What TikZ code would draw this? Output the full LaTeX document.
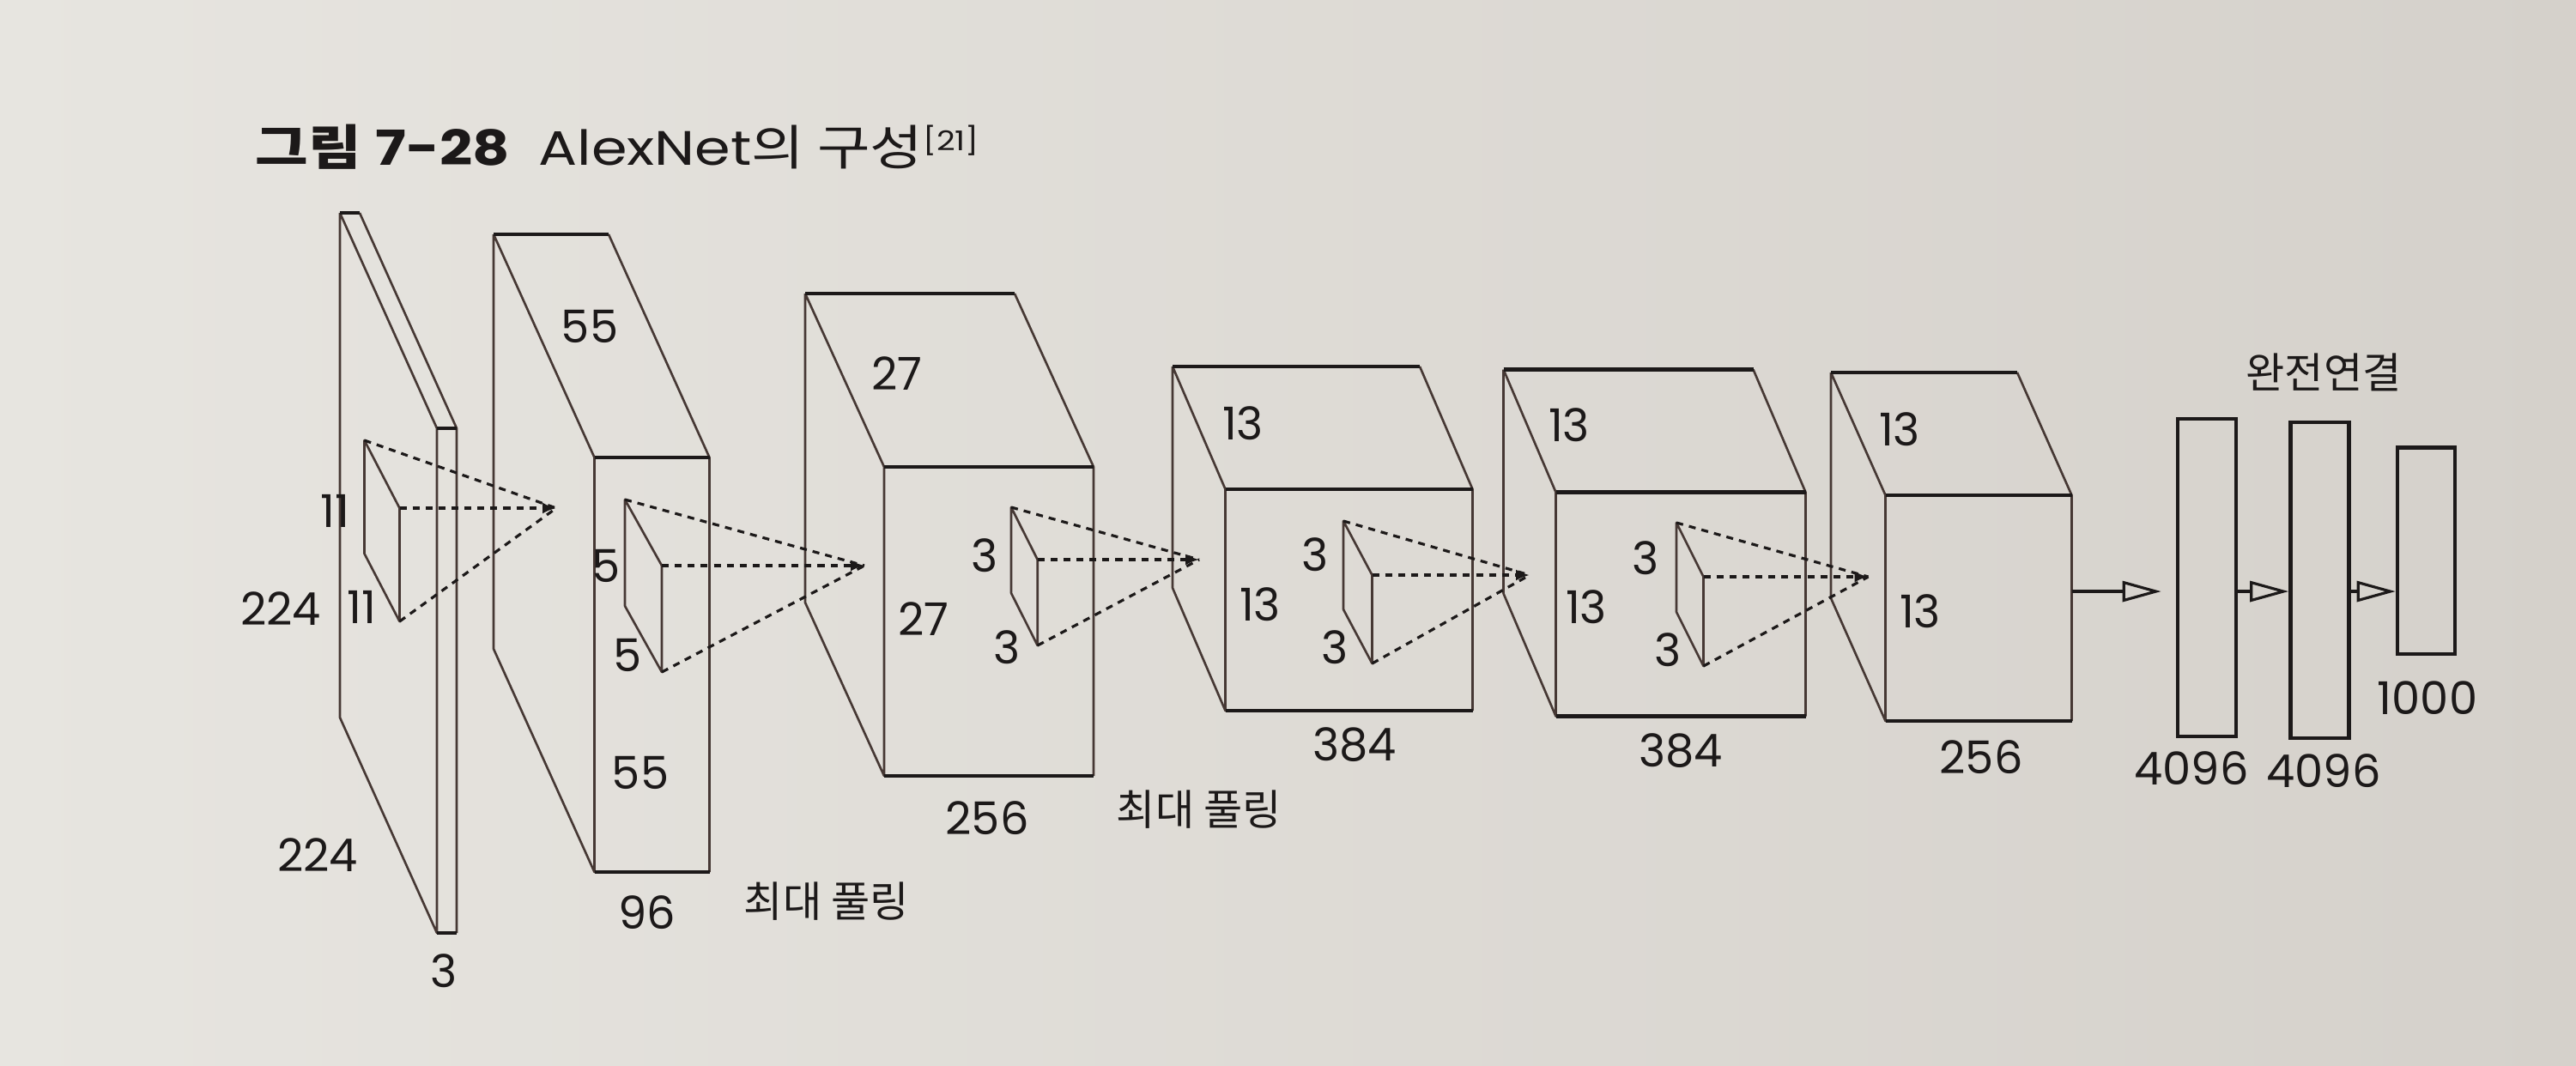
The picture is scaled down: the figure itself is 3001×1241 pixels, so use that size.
\documentclass[tikz,border=0pt]{standalone}
\usepackage{graphicx}
\usepackage{fontspec}
\setmainfont{Poppins}
\newfontfamily\krfont{Noto Sans CJK KR}
\usetikzlibrary{arrows.meta,positioning,calc}
\definecolor{PaperLight}{RGB}{231,229,224}
\definecolor{PaperDark}{RGB}{213,209,203}
\definecolor{InkLine}{RGB}{70,56,52}
\definecolor{InkDark}{RGB}{28,25,25}

% feature map: #1 name, (#2,#3) back top left, #4 width, #5 height, (#6,#7) depth
\newcommand{\featbox}[7]{%
  \coordinate (#1-btl) at (#2,#3);
  \coordinate (#1-btr) at ($(#1-btl)+(#4,0)$);
  \coordinate (#1-bbl) at ($(#1-btl)+(0,#5)$);
  \coordinate (#1-ftl) at ($(#1-btl)+(#6,#7)$);
  \coordinate (#1-ftr) at ($(#1-ftl)+(#4,0)$);
  \coordinate (#1-fbl) at ($(#1-ftl)+(0,#5)$);
  \coordinate (#1-fbr) at ($(#1-ftr)+(0,#5)$);
  \draw[edge] (#1-btl) -- (#1-bbl) -- (#1-fbl) -- (#1-ftl) -- (#1-btl)
    (#1-btr) -- (#1-ftr) -- (#1-fbr);
  \draw[hedge] (#1-btl) -- (#1-btr) (#1-ftl) -- (#1-ftr) (#1-fbl) -- (#1-fbr);
}
% filter window: #1 name, (#2,#3) top corner, (#4,#5) slant, #6 height
\newcommand{\filterpatch}[6]{%
  \coordinate (#1-t) at (#2,#3);
  \coordinate (#1-rt) at ($(#1-t)+(#4,#5)$);
  \coordinate (#1-rb) at ($(#1-rt)+(0,#6)$);
  \coordinate (#1-lb) at ($(#1-t)+(0,#6)$);
  \draw[edge] (#1-t) -- (#1-rt) -- (#1-rb) -- (#1-lb) -- cycle;
}

\begin{document}
\begin{tikzpicture}[x=0.01cm, y=-0.01cm,
  edge/.style={line width=0.75pt, InkLine, line join=round},
  hedge/.style={line width=1.4pt, InkDark},
  rays/.style={dash pattern=on 2.3pt off 2pt, line width=0.9pt, InkDark},
  fcbox/.style={draw=InkDark, line width=1.3pt, inner sep=0pt},
  fcarrow/.style={-{Triangle[open,length=4.5mm,width=2.4mm]}, line width=0.9pt, InkDark},
  num/.style={font=\fontsize{15}{18}\selectfont, text=InkDark, inner sep=0pt},
  kor/.style={font=\krfont\fontsize{14}{17}\selectfont, text=InkDark, inner sep=0pt}
]
  \useasboundingbox (0,0) rectangle (3001,1241);
  \shade[left color=PaperLight, right color=PaperDark] (0,0) rectangle (3001,1241);

  \node[anchor=base west, text=InkDark, inner sep=0pt] (title) at (297,192)
    {\scalebox{1.19}[1]{\fontsize{16}{19}\selectfont{\krfont\bfseries 그림}\hspace{4pt}\textbf{7-28}\hspace{8pt}AlexNet{\krfont 의 구성}\raisebox{0.17cm}{\fontsize{9}{10}\selectfont[21]}}};

  % layers
  \featbox{l1}{396}{248}{23}{588}{113}{251}
  \featbox{l2}{575}{273}{134}{483}{117.5}{260}
  \featbox{l3}{938}{342}{244}{360}{92}{202}
  \featbox{l4}{1366}{427}{288}{258}{61.5}{143}
  \featbox{l5}{1751.5}{430.5}{291}{261}{61}{143}
  \featbox{l6}{2133}{434}{217}{263}{63.5}{143}

  % filters
  \filterpatch{f1}{424.5}{513}{41}{79}{132}
  \filterpatch{f2}{728}{582}{43}{77}{124}
  \filterpatch{f3}{1178}{591}{30.7}{61}{100}
  \filterpatch{f4}{1565}{607}{33.5}{63}{103}
  \filterpatch{f5}{1953}{609}{31.5}{63}{104}

  \coordinate (c1) at (648,592);
  \coordinate (c2) at (1007,659);
  \coordinate (c3) at (1397,652);
  \coordinate (c4) at (1782,670);
  \coordinate (c5) at (2176.5,672);
  \foreach \f/\c in {f1/c1,f2/c2,f3/c3,f4/c4,f5/c5}{
    \draw[rays] (\f-t) -- (\c) (\f-rb) -- (\c);
    \draw[rays,-{Latex[length=1.6mm,width=1.3mm]}] (\f-rt) -- (\c);
  }

  % fully connected
  \node[fcbox, minimum width=0.68cm, minimum height=3.70cm] (fc1) at (2571,673) {};
  \node[fcbox, minimum width=0.68cm, minimum height=3.68cm] (fc2) at (2702.5,676) {};
  \node[fcbox, minimum width=0.67cm, minimum height=2.40cm] (fc3) at (2826.5,641.7) {};
  \coordinate (a0) at ($(l6-ftr)!0.426!(l6-fbr)$);
  \draw[fcarrow, shorten >=0.17cm] (a0) -- (a0 -| fc1.west);
  \draw[fcarrow] (fc1.east |- a0) -- (fc2.west |- a0);
  \draw[fcarrow] (fc2.east |- a0) -- (fc3.west |- a0);

  % sizes
  \node[num] (in-k1) at (390,595) {11};
  \node[num] (in-h) at (327,709) {224};
  \node[num] (in-k2) at (421,707) {11};
  \node[num] (in-w) at (370,996) {224};
  \node[num] (in-c) at (517,1131) {3};
  \node[num] (c1-w) at (687,380) {55};
  \node[num] (c1-k1) at (706,659) {5};
  \node[num] (c1-k2) at (731,763) {5};
  \node[num] (c1-h) at (746,900) {55};
  \node[num] (c1-c) at (754,1063) {96};
  \node[kor] (pool1) at (963,1050) {최대 풀링};
  \node[num] (c2-w) at (1045,435) {27};
  \node[num] (c2-h) at (1076,721) {27};
  \node[num] (c2-k1) at (1147,647) {3};
  \node[num] (c2-k2) at (1173,754) {3};
  \node[num] (c2-c) at (1150,953) {256};
  \node[kor] (pool2) at (1397,943) {최대 풀링};
  \node[num] (c3-w) at (1448,493) {13};
  \node[num] (c3-h) at (1468,704) {13};
  \node[num] (c3-k1) at (1532,646) {3};
  \node[num] (c3-k2) at (1555,754) {3};
  \node[num] (c3-c) at (1578,868) {384};
  \node[num] (c4-w) at (1828,495) {13};
  \node[num] (c4-h) at (1848,707) {13};
  \node[num] (c4-k1) at (1917,650) {3};
  \node[num] (c4-k2) at (1943,757) {3};
  \node[num] (c4-c) at (1958,875) {384};
  \node[num] (c5-w) at (2213,500) {13};
  \node[num] (c5-h) at (2237,712) {13};
  \node[num] (c5-c) at (2308,882) {256};
  \node[kor] (fc-lab) at (2707,434) {완전연결};
  \node[num] (fc1-n) at (2553,895) {4096};
  \node[num] (fc2-n) at (2707,898) {4096};
  \node[num] (fc3-n) at (2828,813) {1000};
\end{tikzpicture}
\end{document}
